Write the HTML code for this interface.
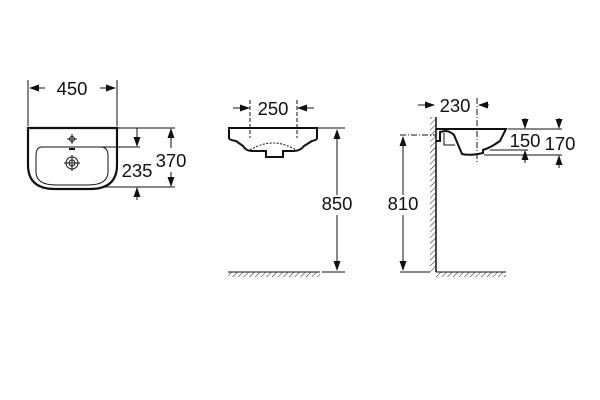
<!DOCTYPE html>
<html><head><style>
html,body{margin:0;padding:0;background:#fff;}
svg{display:block;}
text{font-family:"Liberation Sans",sans-serif;font-size:18.5px;fill:#111;}
</style></head><body>
<svg width="600" height="400" viewBox="0 0 600 400" xmlns="http://www.w3.org/2000/svg">
<defs>
<marker id="a" markerWidth="10" markerHeight="7" refX="9" refY="3.5" orient="auto" markerUnits="userSpaceOnUse"><path d="M0,0 L10,3.5 L0,7 Z" fill="#111"/></marker>
<pattern id="h" width="4" height="4" patternUnits="userSpaceOnUse" patternTransform="rotate(45)"><line x1="0" y1="0" x2="0" y2="4" stroke="#222" stroke-width="1"/></pattern>
</defs>
<g stroke="#111" fill="none" stroke-width="1">
<line x1="28" y1="80" x2="28" y2="126"/><line x1="117" y1="80" x2="117" y2="126"/>
<line x1="45" y1="88" x2="30" y2="88" marker-end="url(#a)"/><line x1="100" y1="88" x2="115" y2="88" marker-end="url(#a)"/>
<path d="M28,128 H117 V165 Q117,189 90,189 H55 Q28,189 28,165 Z" stroke-width="2.2"/>
<path d="M42,147 H101 Q108,147 108,156 V172 Q108,185 88,185 H56 Q36,185 36,172 V156 Q36,147 42,147 Z"/>
<circle cx="72" cy="163" r="6"/><circle cx="72" cy="163" r="3"/>
<line x1="64" y1="163" x2="80" y2="163"/><line x1="72" y1="155" x2="72" y2="171"/>
<circle cx="72" cy="139" r="2.5"/><line x1="67" y1="139" x2="77" y2="139"/><line x1="72" y1="134" x2="72" y2="144"/>
<line x1="69" y1="149" x2="75" y2="149" stroke-width="2"/>
<line x1="117" y1="128" x2="175" y2="128"/>
<line x1="100" y1="147" x2="140" y2="147"/>
<line x1="105" y1="187" x2="175" y2="187"/>
<line x1="137" y1="128" x2="137" y2="146" marker-end="url(#a)"/>
<line x1="137" y1="200" x2="137" y2="188" marker-end="url(#a)"/>
<line x1="171" y1="148" x2="171" y2="129" marker-end="url(#a)"/>
<line x1="171" y1="172" x2="171" y2="186" marker-end="url(#a)"/>
<line x1="233" y1="108" x2="249" y2="108" marker-end="url(#a)"/>
<line x1="314" y1="108" x2="298" y2="108" marker-end="url(#a)"/>
<line x1="250" y1="100" x2="250" y2="138" stroke-dasharray="4,2"/>
<line x1="297" y1="100" x2="297" y2="138" stroke-dasharray="4,2"/>
<path d="M229,128 H317 V138 Q317,140 312,141 L304,146 Q300,151 294,151 H283 V157 H266 V151 H252 Q246,151 243,146 L236,141 Q229,140 229,138 Z" stroke-width="2"/>
<path d="M250,150 Q273,136 296,150" stroke-dasharray="2,1.5"/>
<line x1="318" y1="128" x2="345" y2="128"/>
<line x1="337" y1="195" x2="337" y2="130" marker-end="url(#a)"/>
<line x1="337" y1="215" x2="337" y2="270" marker-end="url(#a)"/>
<line x1="322" y1="272" x2="345" y2="272"/>
<rect x="228" y="272" width="92" height="5" fill="url(#h)" stroke="none"/>
<line x1="228" y1="272" x2="320" y2="272"/>
<rect x="430" y="117" width="6" height="155" fill="url(#h)" stroke="none"/>
<line x1="436" y1="117" x2="436" y2="272" stroke-width="1.5"/>
<rect x="436" y="272" width="70" height="5" fill="url(#h)" stroke="none"/>
<line x1="436" y1="272" x2="506" y2="272"/>
<line x1="418" y1="105" x2="434" y2="105" marker-end="url(#a)"/>
<line x1="489" y1="105" x2="479" y2="105" marker-end="url(#a)"/>
<line x1="477" y1="98" x2="477" y2="162" stroke-dasharray="6,2,1,2"/>
<line x1="400" y1="135" x2="436" y2="135" stroke-dasharray="6,2,1,2"/>
<path d="M436,129 H506 L500,141 Q490,148 483,150 V153 Q470,156 462,154 L454,135 Q450,131 445,131 L440,132 V141 H436" stroke-width="2"/>
<path d="M444,133 V145 H455" stroke-width="1"/>
<line x1="403" y1="195" x2="403" y2="137" marker-end="url(#a)"/>
<line x1="403" y1="215" x2="403" y2="270" marker-end="url(#a)"/>
<line x1="400" y1="272" x2="430" y2="272"/>
<line x1="508" y1="129" x2="562" y2="129"/>
<line x1="490" y1="150" x2="528" y2="150"/>
<line x1="484" y1="155" x2="562" y2="155"/>
<line x1="525" y1="118" x2="525" y2="128" marker-end="url(#a)"/>
<line x1="525" y1="163" x2="525" y2="151" marker-end="url(#a)"/>
<line x1="559" y1="118" x2="559" y2="128" marker-end="url(#a)"/>
<line x1="559" y1="168" x2="559" y2="156" marker-end="url(#a)"/>
</g>
<g>
<rect x="50" y="80" width="44" height="18" fill="#fff"/>
<text x="72" y="95" text-anchor="middle">450</text>
<text x="137" y="177" text-anchor="middle">235</text>
<rect x="154" y="150" width="34" height="20" fill="#fff"/>
<text x="171" y="167" text-anchor="middle">370</text>
<text x="273" y="115" text-anchor="middle">250</text>
<text x="337" y="210" text-anchor="middle">850</text>
<text x="455" y="112" text-anchor="middle">230</text>
<text x="403" y="210" text-anchor="middle">810</text>
<rect x="507" y="132" width="36" height="17" fill="#fff"/>
<text x="525" y="147" text-anchor="middle">150</text>
<rect x="541" y="134" width="36" height="19" fill="#fff"/>
<text x="560" y="150" text-anchor="middle">170</text>
</g>
</svg>
</body></html>
